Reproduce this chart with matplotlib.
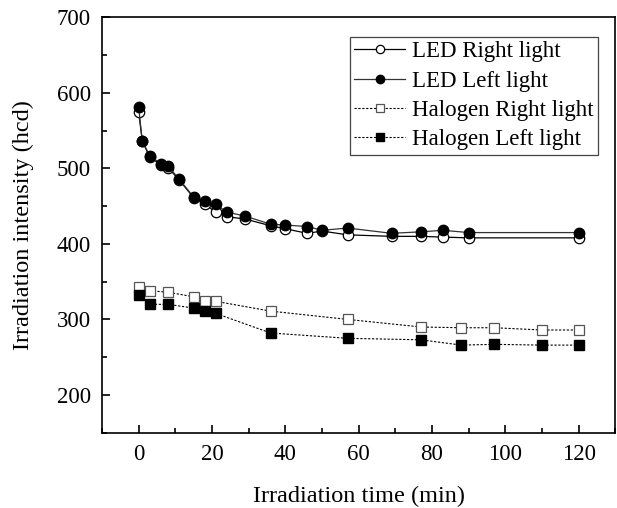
import numpy as np
import matplotlib.pyplot as plt
from matplotlib.ticker import MultipleLocator

plt.rcParams['font.family'] = ['Liberation Serif', 'DejaVu Serif']

# LED data (min, hcd)
led_t = [0, 1, 3, 6, 8, 11, 15, 18, 21, 24, 29, 36, 40, 46, 50, 57, 69, 77, 83, 90, 120]
led_right = [574, 536, 515, 505, 501, 485, 461, 453, 442, 436, 433, 424, 420, 414, 417, 412, 410, 410, 409, 408, 408]
led_left = [581, 536, 517, 506, 503, 486, 462, 457, 453, 442, 437, 426, 425, 423, 418, 421, 414, 416, 418, 415, 415]

# Halogen data
hal_t = [0, 3, 8, 15, 18, 21, 36, 57, 77, 88, 97, 110, 120]
hal_right = [343, 338, 336, 330, 325, 324, 311, 300, 290, 289, 289, 286, 286]
hal_left = [332, 320, 320, 315, 311, 308, 282, 275, 273, 266, 267, 266, 266]

fig = plt.figure(figsize=(6.17, 5.08), dpi=100)
ax = fig.add_axes([0.1653, 0.1482, 0.832, 0.8177])

ax.plot(led_t, led_right, '-', color='black', lw=0.9, marker='o', ms=7.5,
        mfc='white', mec='black', mew=0.9, label='LED Right light')
ax.plot(led_t, led_left, '-', color='#333333', lw=0.9, marker='o', ms=7.5,
        mfc='black', mec='black', label='LED Left light')
ax.plot(hal_t, hal_right, linestyle=(0, (2, 1.5)), color='black', lw=0.8, marker='s', ms=6.5,
        mfc='white', mec='#555555', mew=0.9, label='Halogen Right light')
ax.plot(hal_t, hal_left, linestyle=(0, (2, 1.5)), color='black', lw=0.8, marker='s', ms=6.5,
        mfc='black', mec='black', label='Halogen Left light')

ax.set_xlim(-10, 130)
ax.set_ylim(150, 700)
ax.xaxis.set_major_locator(MultipleLocator(20))
ax.xaxis.set_minor_locator(MultipleLocator(10))
ax.yaxis.set_major_locator(MultipleLocator(100))
ax.yaxis.set_minor_locator(MultipleLocator(50))
ax.tick_params(which='both', direction='in', width=1.2, labelsize=16.5)
ax.tick_params(which='major', length=6, pad=8)
ax.tick_params(which='minor', length=3.5)
for s in ax.spines.values():
    s.set_linewidth(1.2)

ax.set_xlabel('Irradiation time (min)', fontsize=17.5, labelpad=15)
ax.set_ylabel('Irradiation intensity (hcd)', fontsize=17.5, labelpad=16)

leg = ax.legend(loc='upper right', bbox_to_anchor=(0.966, 0.953), fontsize=16.5,
                frameon=True, fancybox=False, edgecolor='#444444', framealpha=1,
                handlelength=2.2, handletextpad=0.3, borderpad=0.2, labelspacing=0.36,
                borderaxespad=0, markerscale=0.8)
leg.get_frame().set_linewidth(0.9)

plt.savefig('out.png', dpi=100)
plt.close()
